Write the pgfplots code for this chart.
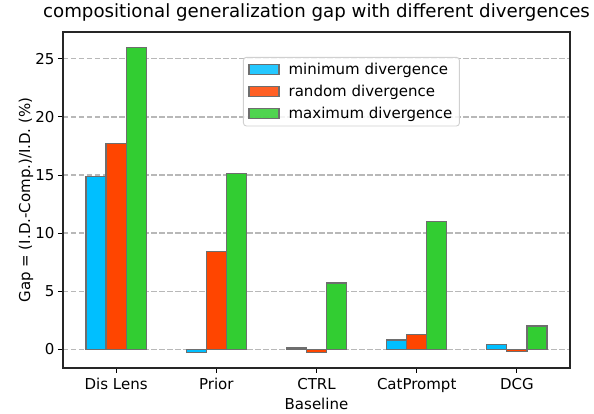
\documentclass[border=0pt]{standalone}
\usepackage{fontspec}
\setmainfont{DejaVu Sans}
\usepackage{pgfplots}
\pgfplotsset{compat=1.18}
\definecolor{cmin}{HTML}{00BFFF}
\definecolor{crnd}{HTML}{FF4500}
\definecolor{cmax}{HTML}{32CD32}
\definecolor{edge}{HTML}{6E6E6E}
\definecolor{gridc}{HTML}{B8B8B8}
\definecolor{legc}{HTML}{D0D0D0}
\begin{document}
\begin{tikzpicture}
\begin{axis}[
  name=ax,
  scale only axis,
  width=507pt, height=336pt,
  xmin=-0.53, xmax=4.53,
  ymin=-1.615, ymax=27.315,
  xtick={0,1,2,3,4},
  xticklabels={Dis Lens,Prior,CTRL,CatPrompt,DCG},
  ytick={0,5,10,15,20,25},
  /pgf/number format/assume math mode=true,
  ticklabel style={font=\fontsize{15}{18}\selectfont},
  xticklabel style={yshift=-2pt},
  tick align=outside,
  major tick length=5pt,
  tick style={black, line width=1.0pt},
  xtick pos=bottom, ytick pos=left,
  axis line style={black!85, line width=1.1pt},
  ymajorgrids,
  major grid style={gridc, line width=1.2pt, dash pattern=on 5.5pt off 2.5pt},
  title={compositional generalization gap with different divergences},
  title style={font=\fontsize{18.2}{21}\selectfont, at={(axis description cs:0.5,1.0238)}, anchor=base},
  xlabel={Baseline},
  xlabel style={font=\fontsize{15}{18}\selectfont, at={(axis description cs:0.5,-0.125)}, anchor=base},
  ylabel={Gap = (I.D.-Comp.)/I.D. (\%)},
  ylabel style={font=\fontsize{15}{18}\selectfont, at={(axis description cs:-0.065,0.5)}, anchor=base, rotate=0},
  ybar, bar width=0.2,
  legend style={at={(0.355,0.926)}, anchor=north west, draw=legc, line width=0.9pt, rounded corners=3pt, fill=white, fill opacity=0.85, text opacity=1, font=\fontsize{15}{18}\selectfont, inner xsep=5pt, inner ysep=4pt, row sep=5pt, cells={anchor=west}},
  legend image code/.code={\draw[#1, line width=1.2pt, sharp corners] (0pt,-5pt) rectangle (30pt,5pt); \path (37pt,0pt);},
  every axis plot/.append style={draw=edge, line width=1.2pt},
]
\addplot[fill=cmin, bar shift=-0.2] coordinates {(0,14.9) (1,-0.3) (2,0.1) (3,0.8) (4,0.4)};
\addplot[fill=crnd, bar shift=0] coordinates {(0,17.7) (1,8.4) (2,-0.3) (3,1.3) (4,-0.2)};
\addplot[fill=cmax, bar shift=0.2] coordinates {(0,26.0) (1,15.1) (2,5.7) (3,11.0) (4,2.0)};
\legend{minimum divergence, random divergence, maximum divergence}
\end{axis}
\pgfresetboundingbox
\path[use as bounding box] ([xshift=-63pt,yshift=-46pt]ax.south west) rectangle ([xshift=24pt,yshift=32pt]ax.north east);
\end{tikzpicture}
\end{document}
